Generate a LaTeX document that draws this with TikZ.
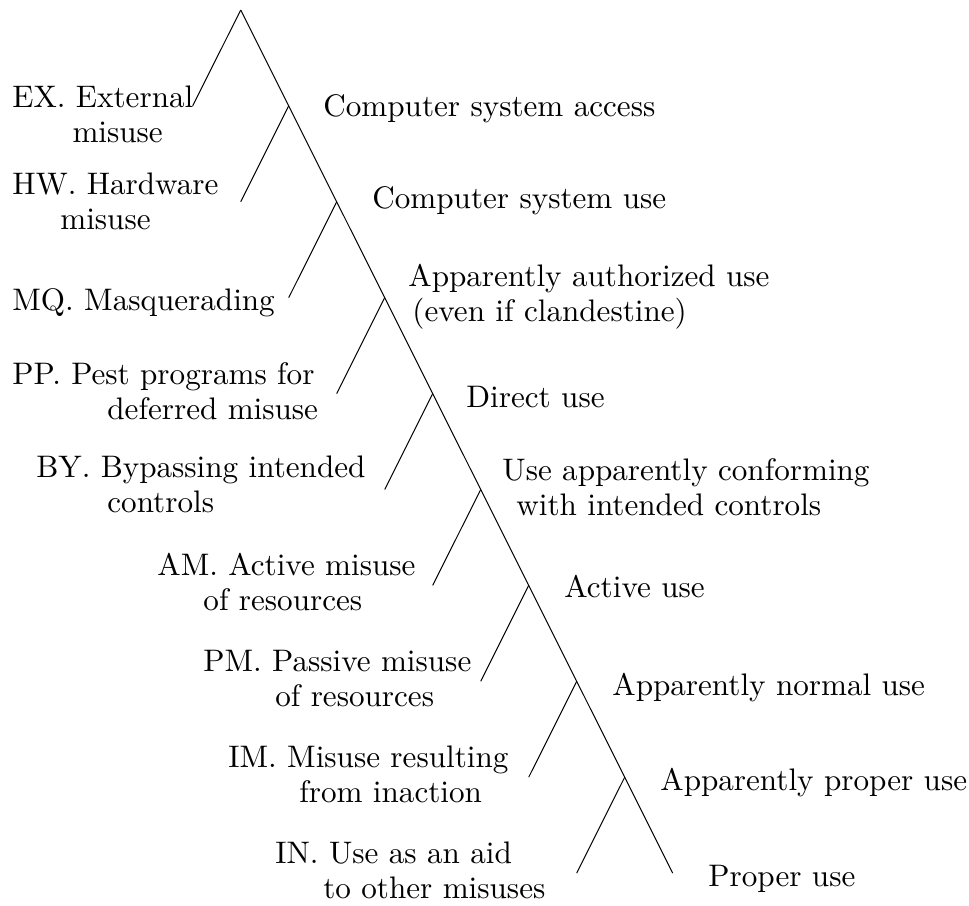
\documentclass[tikz,border=0pt]{standalone}
\usepackage{graphicx}
\newcommand\twol[3]{\begin{tabular}[t]{@{}l@{}}#1\\\hspace*{#2}#3\end{tabular}}
\newcommand\lbltext[1]{\scalebox{1.557}{\fontsize{10}{11.24}\selectfont#1}}
\begin{document}
\begin{tikzpicture}[x=0.5pt,y=-0.5pt,
  lbl/.style={inner sep=0pt,anchor=base west},
  edge/.style={draw=black,line width=0.5pt}]
\useasboundingbox (0,0) rectangle (969,905);
\foreach \k in {0,...,9}{
  \coordinate (p\k) at ({240.7+48*\k},{10+95.9*\k});
}
\foreach \k in {0,...,8}{
  \coordinate (l\k) at ({192.7+48*\k},{105.9+95.9*\k});
}
\draw[edge] (p0) -- (p9);
\foreach \k in {0,...,8}{
  \draw[edge] (p\k) -- (l\k);
}
% left labels
\node[lbl] (ex) at (12,107) {\lbltext{\twol{EX. External}{19.3pt}{misuse}}};
\node[lbl] (hw) at (12,194) {\lbltext{\twol{HW. Hardware}{15.4pt}{misuse}}};
\node[lbl] (mq) at (12,310) {\lbltext{MQ. Masquerading}};
\node[lbl] (pp) at (12,384) {\lbltext{\twol{PP. Pest programs for}{30.5pt}{deferred misuse}}};
\node[lbl] (by) at (36,477) {\lbltext{\twol{BY. Bypassing intended}{22.8pt}{controls}}};
\node[lbl] (am) at (157,575) {\lbltext{\twol{AM. Active misuse}{14.8pt}{of resources}}};
\node[lbl] (pm) at (203,671) {\lbltext{\twol{PM. Passive misuse}{23.1pt}{of resources}}};
\node[lbl] (im) at (228,767) {\lbltext{\twol{IM. Misuse resulting}{22.8pt}{from inaction}}};
\node[lbl] (in) at (275,863) {\lbltext{\twol{IN. Use as an aid}{15.4pt}{to other misuses}}};
% right labels
\node[lbl] (csa) at (323,116) {\lbltext{Computer system access}};
\node[lbl] (csu) at (372,208) {\lbltext{Computer system use}};
\node[lbl] (aau) at (408,286) {\lbltext{\twol{Apparently authorized use}{1.3pt}{(even if clandestine)}}};
\node[lbl] (du) at (466,407) {\lbltext{Direct use}};
\node[lbl] (uac) at (502,480) {\lbltext{\twol{Use apparently conforming}{4.5pt}{with intended controls}}};
\node[lbl] (au) at (564,597) {\lbltext{Active use}};
\node[lbl] (anu) at (612,695) {\lbltext{Apparently normal use}};
\node[lbl] (apu) at (660,790) {\lbltext{Apparently proper use}};
\node[lbl] (pu) at (708,886) {\lbltext{Proper use}};
\end{tikzpicture}
\end{document}
